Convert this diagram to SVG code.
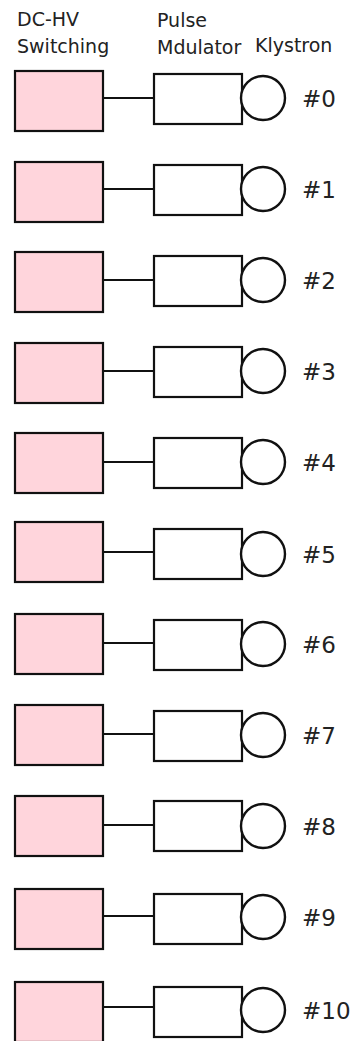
<svg xmlns="http://www.w3.org/2000/svg" width="360" height="1041" viewBox="0 0 360 1041">
  <style>
    .hdr { font-family: "DejaVu Sans", sans-serif; font-size: 19px; fill: #222; }
    .num { font-family: "DejaVu Sans", sans-serif; font-size: 23px; fill: #222; }
    .sw { fill: #ffd5dc; stroke: #111; stroke-width: 2.2; }
    .pm { fill: #fff; stroke: #111; stroke-width: 2.2; }
    .kl { fill: #fff; stroke: #111; stroke-width: 2.4; }
    .wire { stroke: #111; stroke-width: 2.2; fill: none; }
  </style>
  <rect width="360" height="1041" fill="#fff"/>

  <!-- column headers -->
  <g id="headers">
    <text class="hdr" x="17" y="26">DC-HV</text>
    <text class="hdr" x="17" y="53">Switching</text>
    <text class="hdr" x="157" y="27">Pulse</text>
    <text class="hdr" x="157" y="54">Mdulator</text>
    <text class="hdr" x="255" y="52">Klystron</text>
  </g>

  <!-- links between switching unit and modulator -->
  <g id="connectors">
    <line class="wire" x1="103" y1="98" x2="154" y2="98"/>
    <line class="wire" x1="103" y1="189" x2="154" y2="189"/>
    <line class="wire" x1="103" y1="280" x2="154" y2="280"/>
    <line class="wire" x1="103" y1="371" x2="154" y2="371"/>
    <line class="wire" x1="103" y1="462" x2="154" y2="462"/>
    <line class="wire" x1="103" y1="552" x2="154" y2="552"/>
    <line class="wire" x1="103" y1="643" x2="154" y2="643"/>
    <line class="wire" x1="103" y1="734" x2="154" y2="734"/>
    <line class="wire" x1="103" y1="825" x2="154" y2="825"/>
    <line class="wire" x1="103" y1="916" x2="154" y2="916"/>
    <line class="wire" x1="103" y1="1007" x2="154" y2="1007"/>
  </g>

  <!-- one unit per klystron: switching (pink), modulator (box), klystron (circle) -->
  <g id="unit0">
    <rect class="sw" x="15" y="71" width="88" height="60"/>
    <rect class="pm" x="154" y="74" width="88" height="50"/>
    <circle class="kl" cx="263" cy="98" r="22"/>
    <text class="num" x="302" y="107">#0</text>
  </g>
  <g id="unit1">
    <rect class="sw" x="15" y="162" width="88" height="60"/>
    <rect class="pm" x="154" y="165" width="88" height="50"/>
    <circle class="kl" cx="263" cy="189" r="22"/>
    <text class="num" x="302" y="198">#1</text>
  </g>
  <g id="unit2">
    <rect class="sw" x="15" y="252" width="88" height="60"/>
    <rect class="pm" x="154" y="256" width="88" height="50"/>
    <circle class="kl" cx="263" cy="280" r="22"/>
    <text class="num" x="302" y="289">#2</text>
  </g>
  <g id="unit3">
    <rect class="sw" x="15" y="343" width="88" height="60"/>
    <rect class="pm" x="154" y="347" width="88" height="50"/>
    <circle class="kl" cx="263" cy="371" r="22"/>
    <text class="num" x="302" y="380">#3</text>
  </g>
  <g id="unit4">
    <rect class="sw" x="15" y="433" width="88" height="60"/>
    <rect class="pm" x="154" y="438" width="88" height="50"/>
    <circle class="kl" cx="263" cy="462" r="22"/>
    <text class="num" x="302" y="471">#4</text>
  </g>
  <g id="unit5">
    <rect class="sw" x="15" y="522" width="88" height="60"/>
    <rect class="pm" x="154" y="529" width="88" height="50"/>
    <circle class="kl" cx="263" cy="554" r="22"/>
    <text class="num" x="302" y="563">#5</text>
  </g>
  <g id="unit6">
    <rect class="sw" x="15" y="614" width="88" height="60"/>
    <rect class="pm" x="154" y="620" width="88" height="50"/>
    <circle class="kl" cx="263" cy="644" r="22"/>
    <text class="num" x="302" y="653">#6</text>
  </g>
  <g id="unit7">
    <rect class="sw" x="15" y="705" width="88" height="60"/>
    <rect class="pm" x="154" y="711" width="88" height="50"/>
    <circle class="kl" cx="263" cy="735" r="22"/>
    <text class="num" x="302" y="744">#7</text>
  </g>
  <g id="unit8">
    <rect class="sw" x="15" y="796" width="88" height="60"/>
    <rect class="pm" x="154" y="801" width="88" height="50"/>
    <circle class="kl" cx="263" cy="826" r="22"/>
    <text class="num" x="302" y="835">#8</text>
  </g>
  <g id="unit9">
    <rect class="sw" x="15" y="889" width="88" height="60"/>
    <rect class="pm" x="154" y="894" width="88" height="50"/>
    <circle class="kl" cx="263" cy="917" r="22"/>
    <text class="num" x="302" y="926">#9</text>
  </g>
  <g id="unit10">
    <rect class="sw" x="15" y="982" width="88" height="60"/>
    <rect class="pm" x="154" y="987" width="88" height="50"/>
    <circle class="kl" cx="263" cy="1010" r="22"/>
    <text class="num" x="302" y="1019">#10</text>
  </g>
</svg>
